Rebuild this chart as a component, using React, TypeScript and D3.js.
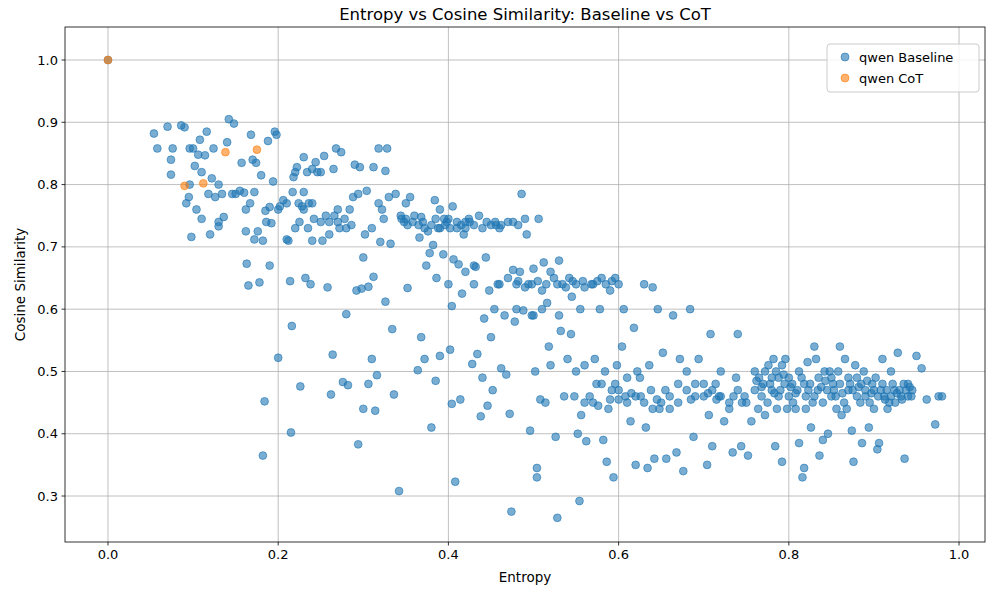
import React from "react";
import * as d3 from "d3";

const seriesNames = ["qwen Baseline", "qwen CoT"];
const colors = ["#1f77b4", "#ff7f0e"];
const xTicks = [0, 0.2, 0.4, 0.6, 0.8, 1.0];
const yTicks = [0.3, 0.4, 0.5, 0.6, 0.7, 0.8, 0.9, 1.0];

const cotPoints: [number, number][] = [[0, 1], [0.09, 0.798], [0.112, 0.802], [0.138, 0.852], [0.175, 0.856]];

const basePoints: [number, number][] = [
[0,1],[0.054,0.882],[0.058,0.858],[0.07,0.893],[0.074,0.84],[0.076,0.858],[0.074,0.816],[0.086,0.895],[0.09,0.892],[0.092,0.77],[0.095,0.78],[0.096,0.8],[0.096,0.858],[0.1,0.858],[0.098,0.716],[0.102,0.83],[0.104,0.76],[0.106,0.848],[0.108,0.872],[0.11,0.82],[0.11,0.745],[0.114,0.847],[0.116,0.885],[0.118,0.785],[0.12,0.72],[0.122,0.81],[0.124,0.858],[0.126,0.78],[0.13,0.74],[0.13,0.733],[0.134,0.785],[0.136,0.748],[0.14,0.868],[0.142,0.905],[0.146,0.785],[0.148,0.898],[0.15,0.785],[0.157,0.835],[0.16,0.787],[0.162,0.76],[0.162,0.725],[0.163,0.673],[0.165,0.638],[0.167,0.77],[0.168,0.88],[0.17,0.84],[0.172,0.788],[0.172,0.712],[0.174,0.835],[0.176,0.725],[0.178,0.643],[0.18,0.815],[0.182,0.71],[0.182,0.365],[0.184,0.452],[0.185,0.758],[0.186,0.74],[0.188,0.87],[0.19,0.764],[0.19,0.67],[0.192,0.738],[0.194,0.805],[0.196,0.885],[0.198,0.88],[0.2,0.522],[0.202,0.765],[0.206,0.775],[0.21,0.712],[0.212,0.71],[0.214,0.645],[0.215,0.402],[0.216,0.573],[0.217,0.788],[0.218,0.812],[0.22,0.82],[0.22,0.73],[0.222,0.828],[0.224,0.77],[0.225,0.74],[0.226,0.476],[0.228,0.765],[0.23,0.844],[0.23,0.788],[0.232,0.65],[0.234,0.82],[0.235,0.73],[0.236,0.77],[0.238,0.64],[0.24,0.825],[0.24,0.71],[0.242,0.745],[0.244,0.836],[0.246,0.82],[0.25,0.82],[0.252,0.71],[0.254,0.846],[0.256,0.75],[0.258,0.635],[0.26,0.72],[0.262,0.463],[0.264,0.527],[0.265,0.825],[0.266,0.75],[0.268,0.858],[0.27,0.74],[0.272,0.73],[0.274,0.852],[0.276,0.483],[0.278,0.745],[0.28,0.592],[0.282,0.478],[0.284,0.76],[0.286,0.735],[0.288,0.78],[0.29,0.832],[0.292,0.63],[0.294,0.383],[0.294,0.785],[0.296,0.828],[0.298,0.633],[0.3,0.683],[0.3,0.44],[0.302,0.72],[0.304,0.79],[0.306,0.48],[0.306,0.636],[0.31,0.73],[0.31,0.52],[0.312,0.652],[0.312,0.828],[0.314,0.437],[0.316,0.494],[0.318,0.858],[0.318,0.77],[0.32,0.708],[0.322,0.76],[0.324,0.745],[0.326,0.822],[0.326,0.612],[0.328,0.858],[0.33,0.78],[0.332,0.705],[0.334,0.568],[0.336,0.463],[0.338,0.785],[0.342,0.308],[0.344,0.75],[0.348,0.74],[0.35,0.77],[0.352,0.634],[0.355,0.78],[0.36,0.75],[0.364,0.502],[0.366,0.715],[0.368,0.555],[0.37,0.74],[0.372,0.52],[0.374,0.67],[0.376,0.725],[0.378,0.69],[0.38,0.41],[0.382,0.703],[0.384,0.775],[0.385,0.485],[0.386,0.65],[0.388,0.73],[0.39,0.525],[0.39,0.76],[0.394,0.688],[0.396,0.735],[0.398,0.74],[0.4,0.64],[0.402,0.535],[0.404,0.605],[0.404,0.448],[0.405,0.765],[0.406,0.68],[0.408,0.323],[0.41,0.73],[0.412,0.672],[0.414,0.455],[0.416,0.625],[0.418,0.72],[0.42,0.73],[0.424,0.745],[0.428,0.512],[0.43,0.64],[0.432,0.668],[0.434,0.528],[0.436,0.75],[0.438,0.428],[0.44,0.49],[0.442,0.585],[0.444,0.683],[0.446,0.445],[0.448,0.63],[0.45,0.555],[0.452,0.47],[0.454,0.6],[0.456,0.735],[0.458,0.64],[0.46,0.73],[0.462,0.505],[0.466,0.59],[0.468,0.495],[0.47,0.74],[0.472,0.432],[0.474,0.275],[0.476,0.663],[0.478,0.58],[0.48,0.64],[0.484,0.66],[0.486,0.785],[0.488,0.598],[0.49,0.745],[0.492,0.72],[0.494,0.64],[0.496,0.405],[0.498,0.59],[0.5,0.665],[0.502,0.5],[0.504,0.33],[0.504,0.345],[0.506,0.745],[0.508,0.455],[0.51,0.63],[0.512,0.675],[0.514,0.45],[0.516,0.61],[0.518,0.54],[0.52,0.51],[0.524,0.65],[0.526,0.395],[0.528,0.265],[0.53,0.678],[0.532,0.565],[0.534,0.64],[0.536,0.46],[0.54,0.52],[0.542,0.65],[0.544,0.56],[0.546,0.645],[0.548,0.46],[0.55,0.5],[0.552,0.4],[0.554,0.292],[0.556,0.43],[0.558,0.645],[0.56,0.51],[0.562,0.388],[0.566,0.46],[0.57,0.64],[0.572,0.52],[0.574,0.48],[0.576,0.445],[0.578,0.6],[0.58,0.65],[0.582,0.39],[0.584,0.5],[0.586,0.355],[0.588,0.44],[0.59,0.63],[0.592,0.47],[0.594,0.33],[0.596,0.65],[0.598,0.51],[0.6,0.455],[0.604,0.54],[0.606,0.6],[0.608,0.46],[0.61,0.49],[0.614,0.42],[0.618,0.57],[0.62,0.35],[0.622,0.5],[0.626,0.46],[0.63,0.64],[0.632,0.41],[0.634,0.345],[0.636,0.51],[0.638,0.47],[0.64,0.635],[0.642,0.36],[0.646,0.6],[0.648,0.44],[0.652,0.53],[0.656,0.36],[0.66,0.46],[0.664,0.59],[0.668,0.37],[0.67,0.48],[0.672,0.52],[0.676,0.34],[0.68,0.5],[0.684,0.6],[0.688,0.395],[0.69,0.46],[0.694,0.52],[0.7,0.46],[0.704,0.35],[0.706,0.43],[0.708,0.56],[0.71,0.38],[0.714,0.48],[0.718,0.46],[0.72,0.5],[0.724,0.42],[0.73,0.44],[0.734,0.37],[0.738,0.49],[0.74,0.56],[0.744,0.38],[0.748,0.46],[0.752,0.365],[0.756,0.42],[0.76,0.5],[0.764,0.44],[0.768,0.46],[0.772,0.43],[0.776,0.51],[0.78,0.47],[0.784,0.38],[0.786,0.44],[0.788,0.49],[0.792,0.355],[0.796,0.52],[0.8,0.46],[0.804,0.48],[0.808,0.44],[0.812,0.385],[0.816,0.33],[0.818,0.345],[0.82,0.46],[0.822,0.515],[0.826,0.41],[0.83,0.54],[0.834,0.47],[0.836,0.365],[0.84,0.39],[0.842,0.5],[0.846,0.4],[0.85,0.46],[0.852,0.48],[0.856,0.44],[0.86,0.54],[0.862,0.43],[0.866,0.52],[0.87,0.47],[0.874,0.405],[0.876,0.355],[0.88,0.49],[0.884,0.45],[0.886,0.385],[0.89,0.46],[0.894,0.41],[0.898,0.48],[0.9,0.44],[0.904,0.375],[0.906,0.385],[0.91,0.52],[0.912,0.46],[0.916,0.44],[0.92,0.5],[0.924,0.47],[0.928,0.53],[0.932,0.46],[0.936,0.36],[0.94,0.48],[0.944,0.46],[0.95,0.525],[0.956,0.505],[0.962,0.455],[0.972,0.415],[0.976,0.46],[0.98,0.46],
[0.345,0.745],[0.352,0.735],[0.358,0.74],[0.365,0.735],[0.372,0.73],[0.38,0.735],[0.39,0.73],[0.395,0.745],[0.402,0.73],[0.41,0.74],[0.415,0.735],[0.425,0.74],[0.43,0.735],[0.44,0.73],[0.445,0.74],[0.455,0.74],[0.462,0.735],[0.476,0.74],[0.482,0.735],
[0.482,0.645],[0.49,0.635],[0.498,0.64],[0.505,0.645],[0.515,0.64],[0.52,0.66],[0.528,0.64],[0.538,0.635],[0.55,0.64],[0.56,0.635],[0.568,0.64],[0.575,0.645],[0.585,0.64],[0.592,0.645],[0.6,0.64],
[0.57,0.45],[0.58,0.48],[0.6,0.47],[0.61,0.45],[0.62,0.46],[0.63,0.45],[0.64,0.44],[0.65,0.45],[0.66,0.44],[0.67,0.45],[0.68,0.47],[0.69,0.48],[0.7,0.48],[0.71,0.47],[0.72,0.46],[0.73,0.45],[0.74,0.47],[0.75,0.45],
[0.76,0.47],[0.765,0.49],[0.77,0.48],[0.775,0.45],[0.78,0.49],[0.785,0.5],[0.79,0.47],[0.795,0.48],[0.8,0.49],[0.805,0.45],[0.81,0.47],[0.815,0.49],[0.82,0.44],[0.825,0.48],[0.83,0.46],[0.835,0.49],[0.84,0.45],[0.845,0.47],[0.85,0.49],[0.855,0.46],[0.86,0.48],[0.865,0.45],[0.87,0.49],[0.875,0.47],[0.88,0.46],[0.885,0.48],[0.89,0.47],[0.895,0.45],[0.9,0.47],[0.905,0.46],[0.91,0.48],[0.915,0.47],[0.92,0.46],[0.925,0.45],[0.93,0.47],[0.935,0.48],[0.94,0.46],[0.945,0.47],[0.788,0.46],[0.798,0.44],[0.812,0.5],[0.828,0.45],[0.848,0.5],[0.868,0.44],[0.888,0.5],[0.902,0.49],[0.918,0.45],[0.938,0.47],[0.772,0.5],[0.782,0.52],[0.792,0.51],[0.832,0.52],[0.858,0.5],[0.878,0.51],
[0.762,0.485],[0.768,0.475],[0.778,0.48],[0.783,0.465],[0.794,0.495],[0.802,0.475],[0.808,0.465],[0.818,0.48],[0.823,0.47],[0.838,0.475],[0.843,0.485],[0.853,0.47],[0.863,0.465],[0.872,0.48],[0.882,0.475],[0.892,0.485],[0.897,0.465],[0.908,0.47],[0.913,0.455],[0.922,0.48],[0.927,0.465],[0.933,0.455],[0.942,0.475],
[0.56,0.45],[0.59,0.455],[0.615,0.465],[0.645,0.455],[0.655,0.47],[0.685,0.455],[0.715,0.455],[0.745,0.45],[0.596,0.48],[0.625,0.49],[0.705,0.465],[0.735,0.46],
[0.5,0.59],[0.51,0.6],[0.53,0.59],[0.545,0.62],[0.555,0.6],[0.48,0.6],[0.46,0.64],[0.47,0.65],[0.43,0.67],[0.42,0.66],[0.35,0.745],[0.368,0.748],[0.385,0.745],[0.4,0.745],[0.42,0.74],[0.45,0.735],
[0.26,0.74],[0.27,0.76],[0.28,0.73],[0.24,0.77],[0.23,0.76],[0.25,0.74],[0.2,0.76],[0.21,0.77],[0.155,0.79],[0.13,0.8]
];

const W = 1000, H = 600;
const L = 65, R = 985, T = 27, B = 542;
const font = "DejaVu Sans, sans-serif";

export default function App() {
  const x = d3.scaleLinear().domain([-0.0505, 1.0305]).range([L, R]);
  const y = d3.scaleLinear().domain([0.2262, 1.053]).range([B, T]);
  const series = [basePoints, cotPoints];
  return (
    <svg width={W} height={H} style={{ position: "absolute", left: 0, top: 0, background: "#fff" }} fontFamily={font}>
      <rect x={0} y={0} width={W} height={H} fill="#fff" />
      {xTicks.map(t => <line key={"gx" + t} x1={x(t)} x2={x(t)} y1={T} y2={B} stroke="#b0b0b0" strokeWidth={0.8} />)}
      {yTicks.map(t => <line key={"gy" + t} x1={L} x2={R} y1={y(t)} y2={y(t)} stroke="#b0b0b0" strokeWidth={0.8} />)}
      {series.map((pts, si) => (
        <g key={si} fill={colors[si]} fillOpacity={0.6} stroke={colors[si]} strokeOpacity={0.6} strokeWidth={1}>
          {pts.map((p, i) => <circle key={i} cx={x(p[0])} cy={y(p[1])} r={3.9} />)}
        </g>
      ))}
      <rect x={L} y={T} width={R - L} height={B - T} fill="none" stroke="#000" strokeWidth={0.8} />
      {xTicks.map(t => (
        <g key={"tx" + t}>
          <line x1={x(t)} x2={x(t)} y1={B} y2={B + 3.5} stroke="#000" strokeWidth={0.8} />
          <text x={x(t)} y={B + 17} fontSize={13} textAnchor="middle">{t.toFixed(1)}</text>
        </g>
      ))}
      {yTicks.map(t => (
        <g key={"ty" + t}>
          <line x1={L - 3.5} x2={L} y1={y(t)} y2={y(t)} stroke="#000" strokeWidth={0.8} />
          <text x={L - 7} y={y(t) + 4.5} fontSize={13} textAnchor="end">{t.toFixed(1)}</text>
        </g>
      ))}
      <text x={(L + R) / 2} y={582} fontSize={13.5} textAnchor="middle">Entropy</text>
      <text transform={`translate(25,${(T + B) / 2}) rotate(-90)`} fontSize={13.5} textAnchor="middle">Cosine Similarity</text>
      <text x={(L + R) / 2} y={20} fontSize={16.5} textAnchor="middle">Entropy vs Cosine Similarity: Baseline vs CoT</text>
      <g>
        <rect x={827} y={44} width={152} height={48} rx={3} fill="#fff" fillOpacity={0.8} stroke="#ccc" />
        {seriesNames.map((n, i) => (
          <g key={n}>
            <circle cx={845} cy={57 + i * 21} r={4} fill={colors[i]} fillOpacity={0.6} stroke={colors[i]} strokeOpacity={0.6} />
            <text x={859} y={61.5 + i * 21} fontSize={13}>{n}</text>
          </g>
        ))}
      </g>
    </svg>
  );
}
